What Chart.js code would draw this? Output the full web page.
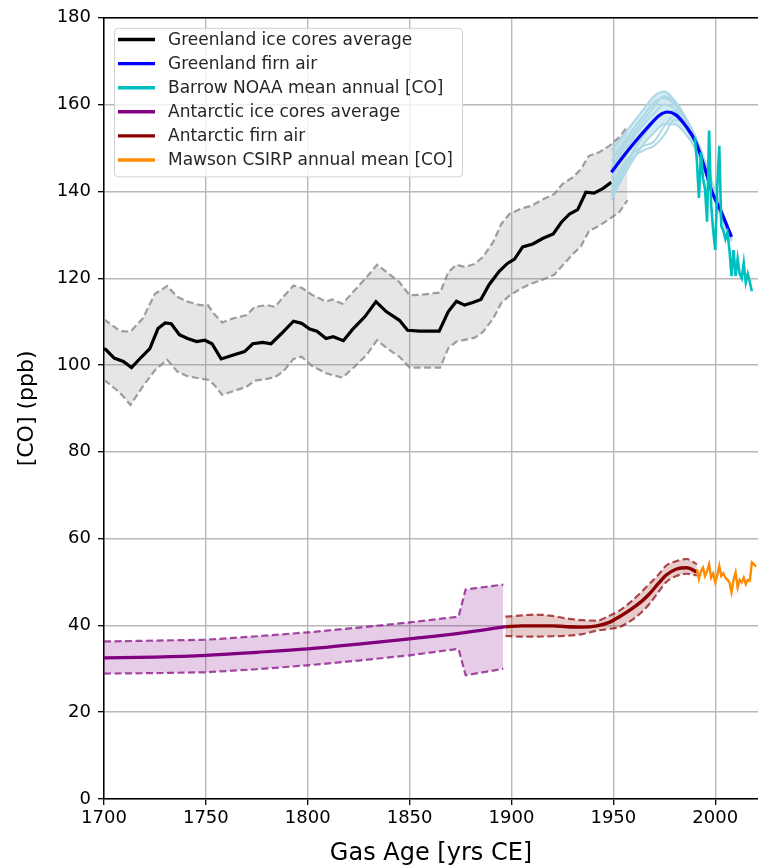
<!DOCTYPE html>
<html>
<head>
<meta charset="utf-8">
<title>CO ice cores</title>
<script src="https://cdn.jsdelivr.net/npm/chart.js@4.4.0/dist/chart.umd.min.js"></script>
<style>
  html, body { margin: 0; padding: 0; background: #fff; overflow: hidden; }
</style>
</head>
<body>
<canvas id="coChart" width="758" height="868"></canvas>
<script>
// ticks
var xTicks = [1700, 1750, 1800, 1850, 1900, 1950, 2000];
var yTicks = [0, 20, 40, 60, 80, 100, 120, 140, 160, 180];

// Greenland ice cores average
var grYears = [1700, 1701, 1705, 1709.5, 1713.5, 1718.5, 1722.5, 1726.5, 1730, 1733, 1737, 1741, 1745.5, 1749.5, 1753, 1757.5,
  1763.5, 1769, 1773, 1778, 1782, 1787, 1793, 1797, 1801, 1804.5, 1809, 1812.5, 1817.5, 1822, 1828, 1833.5, 1838.5, 1845,
  1849, 1855, 1864.5, 1869, 1873, 1877, 1881, 1885, 1889, 1894, 1898, 1901.5, 1905.5, 1910.5, 1915.5, 1920.5, 1924.5,
  1928.5, 1932.5, 1936.5, 1940.5, 1945, 1949];
var grMean = [103.8, 103.5, 101.6, 100.8, 99.4, 101.9, 103.8, 108.4, 109.7, 109.5, 107.0, 106.1, 105.4, 105.7, 104.9, 101.4,
  102.3, 103.1, 104.9, 105.2, 104.9, 107.2, 110.1, 109.6, 108.3, 107.8, 106.1, 106.5, 105.6, 108.2, 111.1, 114.6, 112.3, 110.3,
  108.0, 107.8, 107.8, 112.3, 114.7, 113.8, 114.4, 115.1, 118.5, 121.6, 123.4, 124.4, 127.2, 127.9, 129.2, 130.2, 132.9,
  134.8, 135.8, 139.8, 139.6, 140.7, 142.1];
var grBandYears = [1700, 1703, 1708, 1713, 1719, 1725, 1731, 1736, 1741, 1747, 1751, 1754, 1758, 1763, 1770, 1774, 1780, 1784,
  1788, 1793, 1797, 1802, 1809, 1812, 1817, 1823, 1829, 1834, 1839, 1845, 1850, 1856, 1865, 1869, 1873, 1877, 1882, 1886,
  1891, 1895, 1899, 1905, 1910, 1915, 1921, 1925, 1930, 1934, 1938, 1943, 1948, 1953, 1957];
var grUpper = [110.5, 109.5, 107.8, 107.7, 110.7, 116.4, 118.2, 115.7, 114.6, 113.8, 113.8, 111.8, 109.8, 110.7, 111.5, 113.4,
  113.8, 113.4, 115.7, 118.3, 117.8, 116.2, 114.6, 115.1, 114.1, 117.2, 120.3, 123.1, 121.3, 119.1, 116.1, 116.2, 116.7, 121.4,
  123.1, 122.6, 123.3, 124.9, 128.3, 132.5, 134.8, 136.1, 136.7, 138.1, 139.4, 141.7, 143.2, 145.1, 148.2, 149.0, 150.5,
  152.5, 155.0];
var grLower = [96.5, 95.5, 93.5, 90.8, 95.0, 98.8, 101.2, 98.5, 97.4, 96.9, 96.6, 95.5, 93.1, 93.9, 95.0, 96.4, 96.8, 97.2,
  98.5, 101.4, 101.9, 99.8, 98.1, 97.7, 97.1, 99.6, 102.4, 105.7, 103.8, 101.9, 99.4, 99.4, 99.4, 103.9, 105.4, 105.8, 106.3,
  107.6, 110.7, 114.3, 116.0, 117.7, 118.8, 119.6, 120.8, 122.9, 125.5, 127.3, 130.8, 132.1, 133.6, 135.3, 138.0];

// Greenland firn air
var gfYears = [1949, 1954.5, 1961, 1967.5, 1972.5, 1976.5, 1980.5, 1985.5, 1990.5, 1994.5, 1998.5, 2003, 2008];
var gfMean = [144.4, 147.8, 151.6, 155.1, 157.5, 158.3, 157.7, 155.1, 151.3, 145.9, 139.8, 135.2, 129.5];
// firn model runs (light blue), top one first, bottom one fourth
var gfRunYears = [1949, 1955, 1960, 1965, 1970, 1975, 1980, 1985, 1990, 1995, 2000, 2005, 2008];
var gfRunA = [149.5, 153.0, 156.0, 159.0, 162.0, 163.0, 161.0, 157.5, 153.0, 147.0, 140.0, 133.5, 130.0];
var gfRunB = [147.0, 151.0, 154.5, 157.5, 160.5, 161.5, 160.0, 156.5, 152.5, 146.5, 139.5, 133.0, 129.5];
var gfRunC = [141.0, 146.0, 149.0, 150.5, 151.5, 155.0, 157.5, 156.0, 152.0, 145.5, 139.0, 132.5, 129.0];
var gfRunD = [138.0, 143.5, 147.5, 151.0, 153.5, 155.5, 155.5, 153.5, 150.0, 144.5, 137.5, 131.5, 128.5];
var gfRunE = [143.0, 148.5, 152.5, 155.5, 158.0, 160.0, 159.0, 156.0, 151.5, 145.0, 138.0, 132.0, 129.0];
var gfRunF = [140.0, 145.0, 148.0, 149.5, 150.5, 153.0, 156.5, 155.5, 151.5, 145.5, 138.5, 132.0, 129.0];
var gfRunG = [145.0, 150.0, 153.5, 156.5, 159.5, 162.0, 160.5, 157.0, 152.5, 146.0, 139.0, 133.0, 129.5];
var gfRunH = [139.0, 144.5, 149.5, 153.0, 156.0, 158.0, 158.5, 155.0, 151.0, 145.0, 138.0, 132.0, 128.8];

// Barrow NOAA annual mean
var brwYears = [1990, 1991, 1992, 1993, 1994, 1995, 1996, 1997, 1998, 1999, 2000, 2001, 2002, 2003, 2004, 2005, 2006, 2007,
  2008, 2009, 2010, 2011, 2012, 2013, 2014, 2015, 2016, 2017, 2018];
var brwCO = [152.5, 147.0, 138.5, 149.0, 143.0, 140.5, 133.0, 154.0, 137.0, 131.0, 126.5, 141.0, 150.5, 132.0, 131.0, 129.0,
  130.5, 126.5, 120.5, 126.5, 120.5, 124.5, 121.0, 120.0, 123.5, 119.0, 121.0, 119.0, 117.0];

// Antarctic ice cores average
var aiYears = [1700, 1725, 1750, 1775, 1800, 1825, 1850, 1875, 1897];
var aiMean = [32.5, 32.7, 33.1, 33.8, 34.6, 35.7, 36.9, 38.2, 39.7];
var aiBandYears = [1700, 1725, 1750, 1775, 1800, 1825, 1850, 1874, 1877.5, 1896];
var aiUpper = [36.3, 36.5, 36.7, 37.5, 38.4, 39.5, 40.7, 42.0, 48.3, 49.4];
var aiLower = [28.9, 29.0, 29.2, 29.9, 30.8, 31.9, 33.1, 34.6, 28.5, 30.0];

// Antarctic firn air
var afYears = [1897, 1905, 1911, 1920, 1927, 1935, 1942, 1948, 1953, 1959, 1964, 1968, 1972, 1976, 1981, 1986, 1991];
var afMean = [39.7, 39.9, 39.9, 39.9, 39.7, 39.6, 39.9, 40.7, 42.0, 43.8, 45.6, 47.4, 49.6, 51.6, 53.0, 53.3, 52.3];
var afUpper = [42.0, 42.3, 42.5, 42.2, 41.6, 41.2, 41.1, 42.2, 43.4, 45.6, 47.8, 49.7, 51.6, 53.8, 54.8, 55.3, 54.1];
var afLower = [37.6, 37.4, 37.4, 37.5, 37.6, 38.0, 38.8, 39.2, 39.6, 41.2, 43.1, 45.1, 47.6, 50.0, 51.4, 51.9, 51.5];

// Mawson CSIRO annual mean
var mawYears = [1991, 1992, 1993, 1994, 1995, 1996, 1997, 1998, 1999, 2000, 2001, 2002, 2003, 2004, 2005, 2006, 2007, 2008,
  2009, 2010, 2011, 2012, 2013, 2014, 2015, 2016, 2017, 2018, 2019, 2020];
var mawCO = [53.0, 50.7, 52.5, 53.3, 51.4, 52.5, 54.1, 51.0, 52.0, 49.9, 51.5, 53.7, 51.4, 52.0, 51.0, 50.5, 49.9, 47.6,
  50.5, 52.2, 48.7, 50.5, 49.9, 51.0, 49.5, 50.5, 50.3, 54.5, 54.1, 53.5];

function pts(xs, ys) {
  return xs.map(function (x, i) { return { x: x, y: ys[i] }; });
}

var FONT = "'DejaVu Sans', sans-serif";

function runLine(vals) {
  return {
    label: '_run',
    data: pts(gfRunYears, vals),
    borderColor: '#add8e6',
    borderWidth: 2,
    cubicInterpolationMode: 'monotone',
    order: 10
  };
}

var datasets = [
  { label: 'Greenland ice cores average', data: pts(grYears, grMean), borderColor: '#000000', borderWidth: 3.2, order: 11 },
  { label: '_grUpper', data: pts(grBandYears, grUpper), borderColor: 'rgba(128,128,128,0.75)', borderWidth: 2.2,
    borderDash: [7, 3.5], order: 12 },
  { label: '_grLower', data: pts(grBandYears, grLower), borderColor: 'rgba(128,128,128,0.75)', borderWidth: 2.2,
    borderDash: [7, 3.5], fill: '-1', backgroundColor: 'rgba(128,128,128,0.2)', order: 13 },
  { label: 'Greenland firn air', data: pts(gfYears, gfMean), borderColor: '#0000ff', borderWidth: 3.2,
    cubicInterpolationMode: 'monotone', order: 9 },
  { label: 'Barrow NOAA mean annual [CO]', data: pts(brwYears, brwCO), borderColor: '#00bfbf', borderWidth: 2.6, order: 8 },
  { label: 'Antarctic ice cores average', data: pts(aiYears, aiMean), borderColor: '#800080', borderWidth: 3.2,
    cubicInterpolationMode: 'monotone', order: 5 },
  { label: '_aiUpper', data: pts(aiBandYears, aiUpper), borderColor: 'rgba(128,0,128,0.7)', borderWidth: 2.2,
    borderDash: [7, 3.5], order: 6 },
  { label: '_aiLower', data: pts(aiBandYears, aiLower), borderColor: 'rgba(128,0,128,0.7)', borderWidth: 2.2,
    borderDash: [7, 3.5], fill: '-1', backgroundColor: 'rgba(128,0,128,0.2)', order: 7 },
  { label: 'Antarctic firn air', data: pts(afYears, afMean), borderColor: '#8b0000', borderWidth: 3.4,
    cubicInterpolationMode: 'monotone', order: 2 },
  { label: '_afUpper', data: pts(afYears, afUpper), borderColor: 'rgba(139,0,0,0.7)', borderWidth: 2.2,
    borderDash: [7, 3.5], cubicInterpolationMode: 'monotone', order: 3 },
  { label: '_afLower', data: pts(afYears, afLower), borderColor: 'rgba(139,0,0,0.7)', borderWidth: 2.2,
    borderDash: [7, 3.5], cubicInterpolationMode: 'monotone', fill: '-1', backgroundColor: 'rgba(139,0,0,0.2)', order: 4 },
  { label: 'Mawson CSIRP annual mean [CO]', data: pts(mawYears, mawCO), borderColor: '#ff8c00', borderWidth: 2.4, order: 1 }
];
var runTop = datasets.length;
[gfRunA, gfRunB, gfRunC, gfRunD, gfRunE, gfRunF, gfRunG, gfRunH].forEach(function (r) { datasets.push(runLine(r)); });
// shade the spread of the firn runs (between top run A and bottom run D)
datasets[runTop + 3].fill = runTop;
datasets[runTop + 3].backgroundColor = 'rgba(173,216,230,0.55)';
datasets[runTop + 3].order = 10.5;

// top spine (matplotlib-like frame)
var topSpine = {
  id: 'topSpine',
  afterDraw: function (chart) {
    var c = chart.ctx, a = chart.chartArea;
    c.save();
    c.strokeStyle = '#000';
    c.lineWidth = 1.5;
    c.beginPath();
    c.moveTo(a.left, a.top);
    c.lineTo(chart.width, a.top);
    c.stroke();
    c.restore();
  }
};

// legend box inside the axes, upper left
var legendBox = {
  id: 'legendBox',
  afterDraw: function (chart) {
    var c = chart.ctx, a = chart.chartArea;
    var items = chart.data.datasets.filter(function (d) { return d.label.charAt(0) !== '_'; });
    var x0 = a.left + 10, y0 = a.top + 10, rowH = 24.1;
    c.save();
    c.font = '17px ' + FONT;
    var maxW = 0;
    items.forEach(function (d) { maxW = Math.max(maxW, c.measureText(d.label).width); });
    var w = 54 + maxW + 9, h = items.length * rowH + 4;
    c.fillStyle = 'rgba(255,255,255,0.8)';
    c.strokeStyle = '#d0d0d0';
    c.lineWidth = 1;
    c.beginPath();
    c.roundRect(x0 + 0.5, y0 + 0.5, w, h, 4);
    c.fill();
    c.stroke();
    c.textBaseline = 'middle';
    items.forEach(function (d, i) {
      var y = y0 + 11.7 + i * rowH;
      c.strokeStyle = d.borderColor;
      c.lineWidth = 3.4;
      c.beginPath();
      c.moveTo(x0 + 4, y);
      c.lineTo(x0 + 41, y);
      c.stroke();
      c.fillStyle = '#262626';
      c.fillText(d.label, x0 + 54, y + 1);
    });
    c.restore();
  }
};

var ctx = document.getElementById('coChart');
new Chart(ctx, {
  type: 'line',
  data: { datasets: datasets },
  plugins: [topSpine, legendBox],
  options: {
    responsive: false,
    animation: false,
    devicePixelRatio: 1,
    layout: { padding: { top: 15, left: 0, right: 0, bottom: 0 } },
    elements: {
      point: { radius: 0, hoverRadius: 0 },
      line: { tension: 0, fill: false }
    },
    plugins: {
      legend: { display: false },
      tooltip: { enabled: false }
    },
    scales: {
      x: {
        type: 'linear',
        min: 1700,
        max: 2021,
        afterBuildTicks: function (axis) { axis.ticks = xTicks.map(function (v) { return { value: v }; }); },
        afterFit: function (axis) { axis.height = 69; },
        border: { display: true, color: '#000', width: 1.5 },
        grid: { color: '#b8b8b8', lineWidth: 1.4, drawTicks: true, tickLength: 6, tickColor: '#000', tickWidth: 1.3 },
        ticks: { color: '#000', padding: 3, maxRotation: 0, font: { family: FONT, size: 18 },
          callback: function (v) { return String(v); } },
        title: { display: true, text: 'Gas Age [yrs CE]', color: '#000', padding: { top: 0, bottom: 0 },
          font: { family: FONT, size: 24 } }
      },
      y: {
        min: 0,
        max: 180,
        afterBuildTicks: function (axis) { axis.ticks = yTicks.map(function (v) { return { value: v }; }); },
        afterFit: function (axis) { axis.width = 104; },
        border: { display: true, color: '#000', width: 1.5 },
        grid: { color: '#b8b8b8', lineWidth: 1.4, drawTicks: true, tickLength: 6, tickColor: '#000', tickWidth: 1.3 },
        ticks: { color: '#000', padding: 7, font: { family: FONT, size: 18 } },
        title: { display: true, text: '[CO] (ppb)', color: '#000', padding: { top: 14, bottom: 0 },
          font: { family: FONT, size: 22 } }
      }
    }
  }
});
</script>
</body>
</html>
